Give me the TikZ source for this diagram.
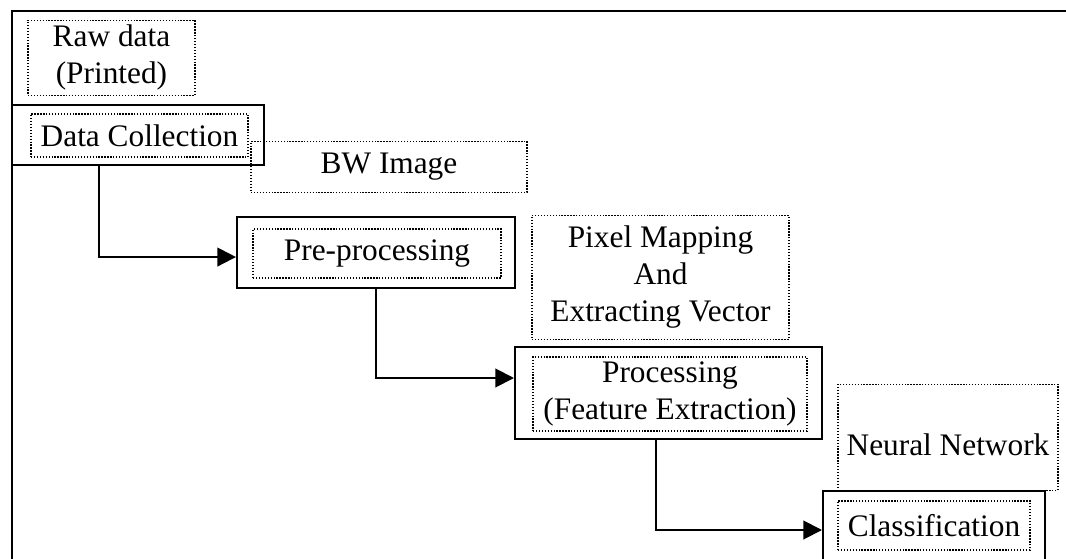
\documentclass[tikz,border=0pt]{standalone}
\usepackage{fontspec}
\setmainfont{Liberation Serif}
\usetikzlibrary{positioning,arrows.meta}

\tikzset{
  stage/.style={draw, line width=1.5pt, inner sep=0pt},
  note/.style={draw, line width=1pt, dash pattern=on 1pt off 1.2pt,
    align=center, inner sep=0pt, font=\fontsize{23.5}{27.75}\selectfont},
  flow/.style={line width=1.5pt, -{Triangle[length=14pt,width=14pt]}}
}

\begin{document}
\begin{tikzpicture}[x=0.75pt,y=-0.75pt]
      \useasboundingbox (0,0) rectangle (1066,559);
      % Frame
      \draw[line width=2pt] (1075,11) -- (12,11) -- (12,570);
      % Stages
      \node[stage, minimum width=189pt, minimum height=45pt] (dc) at (138,135) {};
      \node[note, minimum width=162.75pt, minimum height=32.25pt] (dct) at (139.5,135.5) {Data Collection};
      \node[stage, minimum width=208.5pt, minimum height=53.25pt] (pp) at (376,252.5) {};
      \node[note, minimum width=186pt, minimum height=36.75pt] (ppt) at (377,253.5) {Pre-processing};
      \node[stage, minimum width=230.25pt, minimum height=69pt] (pr) at (668.5,393) {};
      \node[note, minimum width=205.5pt, minimum height=55.5pt] (prt) at (670,394) {Processing\\(Feature Extraction)};
      \node[stage, minimum width=166.5pt, minimum height=63pt] (cl) at (934,533) {};
      \node[note, minimum width=144pt, minimum height=36.75pt] (clt) at (934,525.5) {Classification};
      % Outputs of each stage
      \node[note, above=6pt of dc, xshift=-19.9pt, minimum width=125.25pt, minimum height=56.25pt] (raw) {Raw data\\(Printed)};
      \node[note, above=17.25pt of pp, xshift=9.75pt, minimum width=207pt, minimum height=38.25pt] (bw) {BW Image};
      \node[note, above=4.5pt of pr, xshift=-6pt, minimum width=192.75pt, minimum height=93pt] (pm) {Pixel Mapping\\And\\Extracting Vector};
      \node[note, above=-0.75pt of cl, xshift=10.5pt, minimum width=165pt, minimum height=79.5pt, text height=27pt] (nn) {Neural Network};
      % Connect stages
      \draw[flow] ([xshift=-29.25pt]dc.south) |- ([yshift=-3.4pt]pp.west);
      \draw[flow] (pp.south) |- ([yshift=11.25pt]pr.west);
      \draw[flow] ([xshift=-9.4pt]pr.south) |- ([yshift=2.25pt]cl.west);
\end{tikzpicture}
\end{document}
